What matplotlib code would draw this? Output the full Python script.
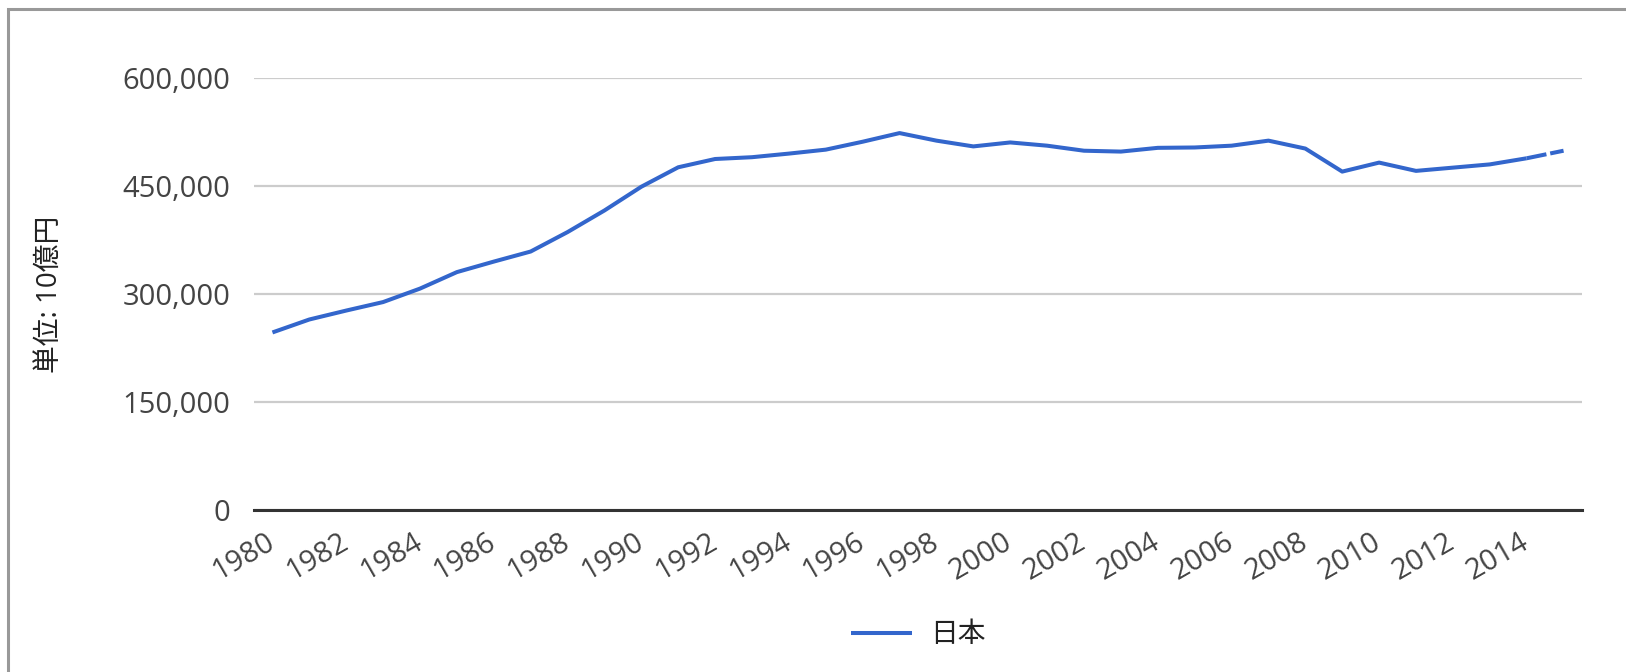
import matplotlib
matplotlib.use("Agg")
import matplotlib.pyplot as plt
from matplotlib.patches import Rectangle
from matplotlib.ticker import FuncFormatter

plt.rcParams['font.family'] = ['Open Sans', 'Noto Sans CJK JP', 'DejaVu Sans']
plt.rcParams['lines.scale_dashes'] = False

# 名目GDP (単位: 10億円)
years = list(range(1980, 2016))
gdp = [246600, 264600, 277000, 288800, 307500, 330400, 345000, 359000,
       386000, 416000, 449000, 476000, 487500, 490000, 495000, 500500,
       511500, 523500, 513000, 505000, 510500, 506000, 499000, 497800,
       503000, 503500, 506000, 513000, 502000, 470000, 482500, 471000,
       475500, 480000, 488500, 499000]
series_name = "日本"
y_ticks = [0, 150000, 300000, 450000, 600000]
x_ticks = list(range(1980, 2016, 2))

blue = '#3366cc'
text_col = '#444444'

fig = plt.figure(figsize=(16.26, 6.72), dpi=100)
ax = fig.add_axes([254 / 1626, 162 / 672, 1328 / 1626, 432 / 672])

# solid part, then the uncertain last segment dashed
ax.plot(years[:-1], gdp[:-1], color=blue, lw=2.9, solid_capstyle='butt',
        solid_joinstyle='round', label=series_name, zorder=3)
ax.plot(years[-2:], gdp[-2:], color=blue, lw=2.9, dashes=(14.5, 2.8),
        dash_capstyle='butt', zorder=3)

ax.set_xlim(1979.5, 2015.5)
ax.set_ylim(0, 600000)
ax.set_yticks(y_ticks)
ax.yaxis.set_major_formatter(FuncFormatter(lambda v, p: f"{int(v):,}"))
ax.set_xticks(x_ticks)
ax.set_xticklabels([str(y) for y in x_ticks], rotation=30, ha='right',
                   va='center', rotation_mode='anchor')

ax.grid(axis='y', color='#cccccc', lw=1.6)
ax.set_axisbelow(True)
for s in ['top', 'right', 'left']:
    ax.spines[s].set_visible(False)
ax.spines['bottom'].set_color('#333333')
ax.spines['bottom'].set_linewidth(2.2)
ax.spines['bottom'].set_zorder(4)

ax.tick_params(axis='both', length=0, labelsize=21, labelcolor=text_col)
ax.tick_params(axis='y', pad=17)
ax.tick_params(axis='x', pad=22)

ax.set_ylabel("単位: 10億円", fontsize=20, color='#222222')
ax.yaxis.set_label_coords(-0.143, 0.5)

leg = ax.legend(loc='center', bbox_to_anchor=(0.5, -0.29), frameon=False,
                fontsize=20, handlelength=2.2, handletextpad=0.65)
for t in leg.get_texts():
    t.set_color('#222222')

# outer frame of the screenshot (left and top edges only visible)
fig.add_artist(Rectangle((8 / 1626, -0.5), 2.0, 1.5 - 9 / 672,
                         transform=fig.transFigure, fill=False,
                         edgecolor='#999999', lw=2.2))

fig.savefig("out.png", dpi=100, facecolor='white')
